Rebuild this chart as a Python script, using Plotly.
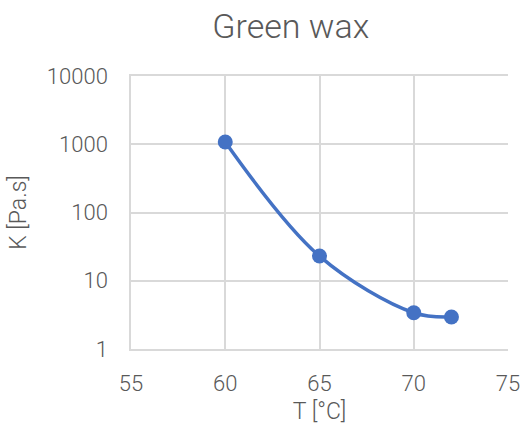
import plotly.graph_objects as go

temperature = [60, 65, 70, 72]
viscosity_K = [1080, 23, 3.4, 2.95]
x_ticks = [55, 60, 65, 70, 75]
y_ticks = [1, 10, 100, 1000, 10000]
y_tick_labels = ["1", "10", "100", "1000", "10000"]

FONT = "Roboto"
GREY = "#595959"
GRID = "#D9D9D9"

fig = go.Figure()
fig.add_trace(go.Scatter(
    x=temperature, y=viscosity_K,
    mode="lines+markers",
    line=dict(color="#4472C4", width=3.5, shape="spline", smoothing=1),
    marker=dict(color="#4472C4", size=15),
    showlegend=False,
))

fig.update_layout(
    width=522, height=435,
    margin=dict(l=131, r=14, t=76, b=86, autoexpand=False),
    paper_bgcolor="white", plot_bgcolor="white",
    font=dict(family=FONT, color=GREY, weight=300),
    title=dict(text="Green wax", x=0.557, xanchor="center", y=0.94, yanchor="middle",
               font=dict(family=FONT, size=34, color=GREY, weight=300)),
    xaxis=dict(
        range=[55, 75], tickvals=x_ticks, ticktext=[str(v) for v in x_ticks],
        showgrid=True, gridcolor=GRID, gridwidth=1.5,
        zeroline=False, automargin=False,
        ticks="", ticklabelstandoff=14,
        tickfont=dict(family=FONT, size=22, color=GREY, weight=300),
        title=dict(text="T [°C]", font=dict(family=FONT, size=23, color=GREY, weight=300), standoff=8),
        showline=True, linecolor=GRID, linewidth=1.5, mirror=True,
    ),
    yaxis=dict(
        type="log", range=[0, 4], tickvals=y_ticks, ticktext=y_tick_labels,
        showgrid=True, gridcolor=GRID, gridwidth=1.5,
        zeroline=False, automargin=False,
        ticks="", ticklabelstandoff=17,
        tickfont=dict(family=FONT, size=22, color=GREY, weight=300),
        title=dict(text="K [Pa.s]", font=dict(family=FONT, size=23, color=GREY, weight=300), standoff=14),
        showline=True, linecolor=GRID, linewidth=1.5, mirror=False,
    ),
)

# remove the default page margin so the 522x435 figure fills the window exactly
fig.write_html(
    "out.html",
    config={"displayModeBar": False},
    post_script="document.body.style.margin='0';document.body.style.overflow='hidden';",
)
